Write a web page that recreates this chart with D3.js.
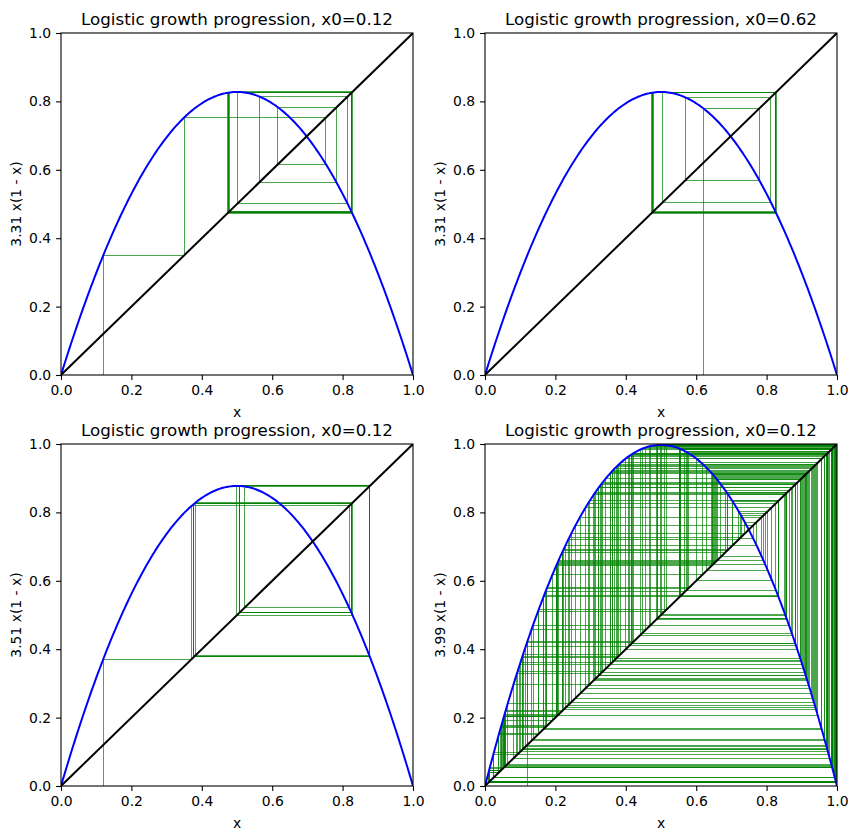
<!DOCTYPE html>
<html><head><meta charset="utf-8">
<script src="https://cdn.jsdelivr.net/npm/d3@7"></script>
<style>body{margin:0;background:#fff}text{font-family:"DejaVu Sans",sans-serif}</style>
</head><body>
<svg id="c" width="857" height="840"></svg>
<script>
// Panel parameters (growth rate r and starting point x0), as read from the titles / y labels
const rates = [3.31, 3.31, 3.51, 3.99];
const starts = [0.12, 0.62, 0.12, 0.12];
const iterations = [200, 200, 200, 200];
const tickValues = [0.0, 0.2, 0.4, 0.6, 0.8, 1.0];
const diagonal = [[0, 0], [1, 1]];

const svg = d3.select("#c");
const W = 352, H = 342;
const origins = [[61, 33], [485, 33], [61, 444], [485, 444]];

function logistic(r, x) { return r * x * (1 - x); }

rates.forEach((r, k) => {
  const x0 = starts[k], n = iterations[k];
  const [ox, oy] = origins[k];
  const g = svg.append("g").attr("transform", `translate(${ox},${oy})`);
  const xs = d3.scaleLinear().domain([0, 1]).range([0, W]);
  const ys = d3.scaleLinear().domain([0, 1]).range([H, 0]);
  const clipId = "clip" + k;
  g.append("clipPath").attr("id", clipId).append("rect").attr("width", W).attr("height", H);
  const plot = g.append("g").attr("clip-path", `url(#${clipId})`);

  const line = d3.line().x(d => xs(d[0])).y(d => ys(d[1]));
  // snapped line for rectilinear segments (pixel-centre snapping)
  const snap = v => Math.floor(v) + 0.5;
  const sline = d3.line().x(d => snap(xs(d[0]))).y(d => snap(ys(d[1])));

  // red starting segment
  let x = x0, y = logistic(r, x);
  plot.append("path").datum([[x, 0], [x, y]]).attr("d", sline)
    .attr("stroke", "#ff0000").attr("stroke-opacity", 0.7).attr("stroke-width", 1).attr("fill", "none");

  // cobweb
  const segs = [];
  for (let i = 0; i < n; i++) {
    segs.push([[x, y], [y, y]]);
    const y2 = logistic(r, y);
    segs.push([[y, y], [y, y2]]);
    x = y; y = y2;
  }
  plot.selectAll("path.web").data(segs).enter().append("path").attr("class", "web")
    .attr("d", sline).attr("fill", "none").attr("stroke", "#008000")
    .attr("stroke-opacity", 0.7).attr("stroke-width", 1).attr("shape-rendering", "crispEdges");

  // curve and diagonal
  const t = d3.range(0, 201).map(i => i / 200);
  plot.append("path").datum(t.map(v => [v, logistic(r, v)]))
    .attr("d", line).attr("fill", "none").attr("stroke", "#0000ff").attr("stroke-width", 2);
  plot.append("path").datum(diagonal)
    .attr("d", line).attr("fill", "none").attr("stroke", "#000").attr("stroke-width", 2);

  // axes
  const xa = g.append("g").attr("transform", `translate(0,${H})`)
    .call(d3.axisBottom(xs).tickValues(tickValues).tickFormat(d3.format(".1f")).tickSizeOuter(0).tickSize(4.9).tickPadding(4.9));
  const ya = g.append("g")
    .call(d3.axisLeft(ys).tickValues(tickValues).tickFormat(d3.format(".1f")).tickSizeOuter(0).tickSize(4.9).tickPadding(4.9));
  [xa, ya].forEach(a => {
    a.select(".domain").remove();
    a.selectAll("text").attr("font-size", 13.9).attr("fill", "#000").attr("font-family", "DejaVu Sans");
    a.selectAll("line").attr("stroke", "#000").attr("stroke-width", 1.1);
  });
  g.append("rect").attr("width", W).attr("height", H).attr("fill", "none")
    .attr("stroke", "#000").attr("stroke-width", 1.1);

  g.append("text").attr("x", W / 2).attr("y", -8.3).attr("text-anchor", "middle")
    .attr("font-size", 16.7).text(`Logistic growth progression, x0=${x0}`);
  g.append("text").attr("x", W / 2).attr("y", H + 42).attr("text-anchor", "middle")
    .attr("font-size", 13.9).text("x");
  g.append("text").attr("transform", `translate(-40,${H / 2}) rotate(-90)`).attr("text-anchor", "middle")
    .attr("font-size", 13.9).text(`${r} x(1 - x)`);
});
</script>
</body></html>
